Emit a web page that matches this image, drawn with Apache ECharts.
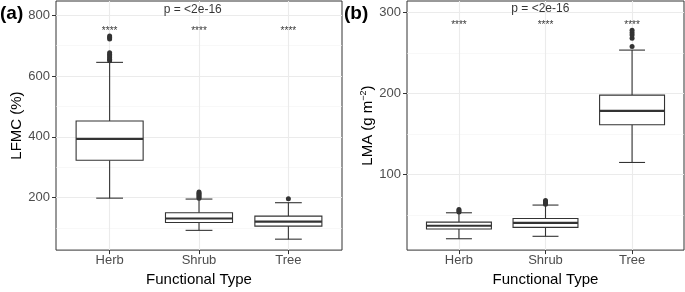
<!DOCTYPE html>
<html>
<head>
<meta charset="utf-8">
<script src="https://cdn.jsdelivr.net/npm/echarts@6/dist/echarts.min.js"></script>
<style>
  html, body { margin: 0; padding: 0; background: #fff; }
  #chart { width: 685px; height: 292px; }
</style>
</head>
<body>
<div id="chart"></div>
<script>
// categories on the x axis of both panels
const categories = ['Herb', 'Shrub', 'Tree'];

// box stats: [x, lower whisker, Q1, median, Q3, upper whisker]
const lfmcBoxes = [
  [1, 198, 323, 393, 452, 645],
  [2, 92, 118, 131, 150, 195],
  [3, 63, 106, 121, 139, 183],
];
const lfmcOutliers = [
  [1, 650], [1, 655], [1, 660], [1, 666], [1, 671], [1, 677], [1, 722], [1, 727], [1, 732],
  [2, 198], [2, 202], [2, 206], [2, 210], [2, 214], [2, 218],
  [3, 196],
];

const lmaBoxes = [
  [1, 21, 33, 37, 41.5, 53],
  [2, 24, 35, 40.5, 46, 62.5],
  [3, 115, 161.5, 178.5, 198, 253.5],
];
const lmaOutliers = [
  [1, 54], [1, 55.5], [1, 57],
  [2, 63.5], [2, 65], [2, 66.5], [2, 68],
  [3, 258], [3, 268], [3, 272], [3, 275], [3, 278],
];

// significance labels
const lfmcStars = [[1, 746], [2, 746], [3, 746]];
const lmaStars = [[1, 284], [2, 284], [3, 284]];
const lfmcPLabel = [[1.93, 819]];
const lmaPLabel = [[1.94, 305]];

// ticks
const lfmcTicks = [200, 400, 600, 800];
const lfmcMinor = [100, 300, 500, 700];
const lmaTicks = [100, 200, 300];
const lmaMinor = [50, 150, 250];
const xTicks = [1, 2, 3];

const FONT = '"Liberation Sans", Arial, sans-serif';
const chart = echarts.init(document.getElementById('chart'));

function renderBox(params, api) {
  const x = api.value(0);
  const half = 0.375, capHalf = 0.15;
  const lo = api.coord([x, api.value(1)]);
  const q1 = api.coord([x, api.value(2)]);
  const med = api.coord([x, api.value(3)]);
  const q3 = api.coord([x, api.value(4)]);
  const hi = api.coord([x, api.value(5)]);
  const left = api.coord([x - half, 0])[0];
  const right = api.coord([x + half, 0])[0];
  const cl = api.coord([x - capHalf, 0])[0];
  const cr = api.coord([x + capHalf, 0])[0];
  const st = { stroke: '#333', lineWidth: 1.1 };
  return {
    type: 'group',
    children: [
      { type: 'line', shape: { x1: hi[0], y1: hi[1], x2: hi[0], y2: q3[1] }, style: st },
      { type: 'line', shape: { x1: lo[0], y1: lo[1], x2: lo[0], y2: q1[1] }, style: st },
      { type: 'line', shape: { x1: cl, y1: hi[1], x2: cr, y2: hi[1] }, style: st },
      { type: 'line', shape: { x1: cl, y1: lo[1], x2: cr, y2: lo[1] }, style: st },
      { type: 'rect', shape: { x: left, y: q3[1], width: right - left, height: q1[1] - q3[1] },
        style: { fill: '#fff', stroke: '#333', lineWidth: 1.1 } },
      { type: 'line', shape: { x1: left, y1: med[1], x2: right, y2: med[1] },
        style: { stroke: '#333', lineWidth: 2.2 } },
    ],
  };
}

// background grid lines as a series underneath the boxes
function gridSeries(idx, major, minor) {
  const data = [];
  minor.forEach(v => data.push({ yAxis: v, lineStyle: { color: '#f3f3f3', width: 0.6, type: 'solid' } }));
  major.forEach(v => data.push({ yAxis: v, lineStyle: { color: '#ebebeb', width: 1.1, type: 'solid' } }));
  xTicks.forEach(v => data.push({ xAxis: v, lineStyle: { color: '#ebebeb', width: 1.1, type: 'solid' } }));
  return {
    type: 'scatter', xAxisIndex: idx, yAxisIndex: idx, data: [], z: 0, silent: true,
    markLine: { silent: true, symbol: 'none', label: { show: false }, animation: false, z: 0, data: data },
  };
}

function xAxisCfg(idx) {
  return {
    type: 'value', gridIndex: idx, min: 0.4, max: 3.6,
    name: 'Functional Type', nameLocation: 'middle', nameGap: 19,
    nameTextStyle: { color: '#000', fontSize: 15, fontFamily: FONT },
    axisLine: { show: false },
    axisTick: { show: true, length: 4, customValues: xTicks, lineStyle: { color: '#333' } },
    axisLabel: { customValues: xTicks, margin: 4, color: '#4d4d4d', fontSize: 13, fontFamily: FONT,
      formatter: v => categories[Math.round(v) - 1] },
    splitLine: { show: false },
  };
}

function yAxisCfg(idx, min, max, ticks, name, gap) {
  return {
    type: 'value', gridIndex: idx, min: min, max: max,
    name: name, nameLocation: 'middle', nameGap: gap,
    nameTextStyle: { color: '#000', fontSize: 15, fontFamily: FONT,
      rich: { sup: { fontSize: 9, verticalAlign: 'top', padding: [0, 0, 8, 0], color: '#000', fontFamily: FONT } } },
    axisLine: { show: false },
    axisTick: { show: true, length: 4, customValues: ticks, lineStyle: { color: '#333' } },
    axisLabel: { customValues: ticks, margin: 6, color: '#4d4d4d', fontSize: 13, fontFamily: FONT },
    splitLine: { show: false },
  };
}

function textSeries(idx, data, text, size) {
  return {
    type: 'scatter', xAxisIndex: idx, yAxisIndex: idx, data: data, symbolSize: 0, silent: true,
    label: { show: true, position: 'inside', formatter: text, color: '#000', fontSize: size, fontFamily: FONT },
    z: 5,
  };
}

const option = {
  backgroundColor: '#fff',
  animation: false,
  grid: [
    { left: 56, top: 1, width: 286, height: 256, show: true, borderColor: '#333', borderWidth: 1, backgroundColor: 'transparent' },
    { left: 407, top: 1, width: 277, height: 256, show: true, borderColor: '#333', borderWidth: 1, backgroundColor: 'transparent' },
  ],
  xAxis: [xAxisCfg(0), xAxisCfg(1)],
  yAxis: [
    yAxisCfg(0, 27, 847, lfmcTicks, 'LFMC (%)', 24),
    yAxisCfg(1, 7, 314, lmaTicks, 'LMA (g m{sup|−2})', 30),
  ],
  graphic: [
    { type: 'text', left: 0, top: 4, style: { text: '(a)', fontSize: 19, fontWeight: 'bold', fontFamily: FONT, fill: '#000' } },
    { type: 'text', left: 344, top: 4, style: { text: '(b)', fontSize: 19, fontWeight: 'bold', fontFamily: FONT, fill: '#000' } },
  ],
  series: [
    gridSeries(0, lfmcTicks, lfmcMinor),
    { type: 'custom', xAxisIndex: 0, yAxisIndex: 0, data: lfmcBoxes, renderItem: renderBox,
      encode: { x: 0, y: [1, 2, 3, 4, 5] }, z: 3 },
    { type: 'scatter', xAxisIndex: 0, yAxisIndex: 0, data: lfmcOutliers, symbolSize: 5,
      itemStyle: { color: '#333', opacity: 1 }, z: 4 },
    textSeries(0, lfmcStars, '****', 10),
    textSeries(0, lfmcPLabel, 'p = <2e-16', 12),
    gridSeries(1, lmaTicks, lmaMinor),
    { type: 'custom', xAxisIndex: 1, yAxisIndex: 1, data: lmaBoxes, renderItem: renderBox,
      encode: { x: 0, y: [1, 2, 3, 4, 5] }, z: 3 },
    { type: 'scatter', xAxisIndex: 1, yAxisIndex: 1, data: lmaOutliers, symbolSize: 5,
      itemStyle: { color: '#333', opacity: 1 }, z: 4 },
    textSeries(1, lmaStars, '****', 10),
    textSeries(1, lmaPLabel, 'p = <2e-16', 12),
  ],
};
chart.setOption(option);
</script>
</body>
</html>
